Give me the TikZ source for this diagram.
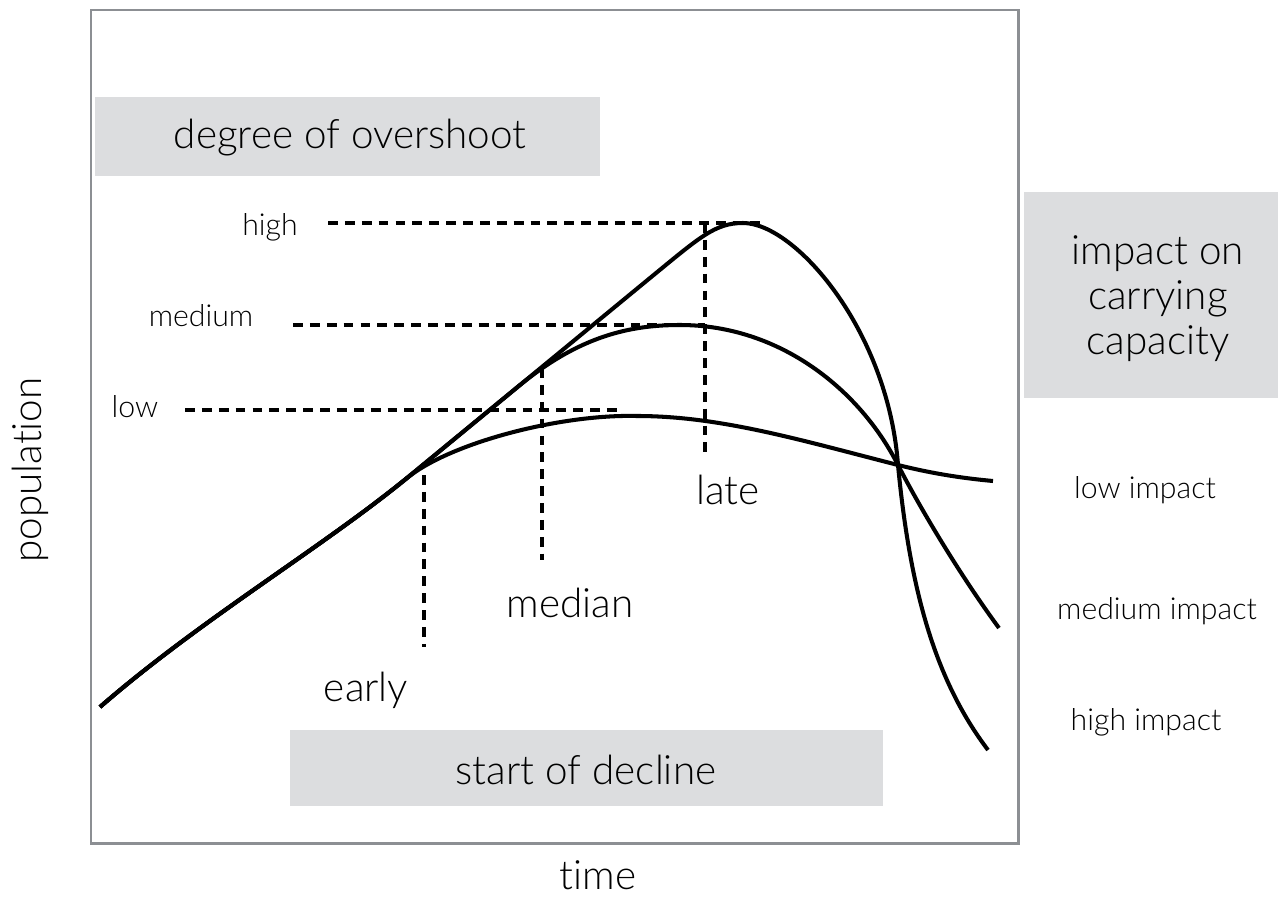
\documentclass[tikz,border=0pt]{standalone}
\usepackage{fontspec}
\setmainfont{Lato Light}[Ligatures=NoCommon]
\definecolor{framegray}{RGB}{140, 143, 147}
\definecolor{boxgray}{RGB}{220, 221, 223}
\usetikzlibrary{positioning}

\tikzset{
  shadebox/.style={fill=boxgray, draw=none, inner sep=0pt},
  biglabel/.style={font=\fontsize{11.5}{13}\selectfont, inner sep=0pt},
  smalllabel/.style={font=\fontsize{8.6}{10}\selectfont, inner sep=0pt},
  curve/.style={line width=1.15pt, line join=round},
  guide/.style={line width=1.15pt, dash pattern=on 2.8pt off 2pt},
}

\begin{document}
\begin{tikzpicture}[x=0.01cm, y=-0.01cm]
  \useasboundingbox (0,0) rectangle (1278,915);

  % Frame of the plot
  \draw[framegray, line width=0.85pt] (91,10) rectangle (1018,843);

  % Shaded headings
  \node[shadebox, minimum width=5.05cm, minimum height=0.79cm] (overshoot) at (347.5,136.5) {};
  \node[biglabel] (overshootlbl) at (350,138) {degree of overshoot};
  \node[shadebox, minimum width=2.68cm, minimum height=2.06cm] (impact) at (1158,295) {};
  \node[biglabel, align=center, font=\fontsize{11.5}{12.8}\selectfont] (impactlbl) at (1158,299) {impact on\\carrying\\capacity};
  \node[shadebox, minimum width=5.93cm, minimum height=0.76cm] (decline) at (586.5,768) {};
  \node[biglabel] (declinelbl) at (586,770) {start of decline};

  % Overshoot levels
  \node[smalllabel] (highlbl) at (270,227) {high};
  \node[smalllabel] (medlbl) at (201,316) {medium};
  \node[smalllabel] (lowlbl) at (135,407) {low};

  % Timing of decline
  \node[biglabel] (latelbl) at (728,490) {late};
  \node[biglabel] (medianlbl) at (570,603) {median};
  \node[biglabel] (earlylbl) at (366,690) {early};

  % Impact labels
  \node[smalllabel] (lowimp) at (1145,490) {low impact};
  \node[smalllabel] (medimp) at (1157,611) {medium impact};
  \node[smalllabel] (highimp) at (1146,722) {high impact};

  % Axes
  \node[biglabel, rotate=90] (poplbl) at (30,470) {population};
  \node[biglabel] (timelbl) at (598,875) {time};

  % Guide line end points
  \coordinate (hiA) at (328,223);  \coordinate (hiB) at (763,223);
  \coordinate (mdA) at (293,325);  \coordinate (mdB) at (705,325);
  \coordinate (loA) at (185,410);  \coordinate (loB) at (620,410);
  \coordinate (ltA) at (705,223);  \coordinate (ltB) at (705,457);
  \coordinate (mnA) at (542,368);  \coordinate (mnB) at (542,560);
  \coordinate (erA) at (424,475);  \coordinate (erB) at (424,647);

  \draw[guide] (hiA) -- (hiB);
  \draw[guide] (mdA) -- (mdB);
  \draw[guide] (loA) -- (loB);
  \draw[guide] (ltA) -- (ltB);
  \draw[guide] (mnA) -- (mnB);
  \draw[guide] (erA) -- (erB);

  % Key points of the curves
  \coordinate (start) at (100,707);
  \coordinate (fork) at (407,478);
  \coordinate (cross) at (898,465);
  \coordinate (peakhi) at (743,223);
  \coordinate (peakmd) at (680,325);
  \coordinate (peaklo) at (637,416);

  % Population curves
  \draw[curve] (start) .. controls (200,620) and (320,549) .. (fork)
    -- (650,278) .. controls (700,237) and (715,223) .. (peakhi)
    .. controls (795,223) and (888,330) .. (cross)
    .. controls (910,590) and (935,680) .. (988,750);
  \draw[curve] (start) .. controls (200,620) and (320,549) .. (fork)
    -- (520,385) .. controls (580,336) and (630,325) .. (peakmd)
    .. controls (780,325) and (860,390) .. (cross)
    .. controls (920,508) and (960,575) .. (999,628);
  \draw[curve] (start) .. controls (200,620) and (320,549) .. (fork)
    .. controls (450,443) and (560,414) .. (peaklo)
    .. controls (720,416) and (800,440) .. (cross)
    .. controls (930,473) and (960,478) .. (993,481);
\end{tikzpicture}
\end{document}
